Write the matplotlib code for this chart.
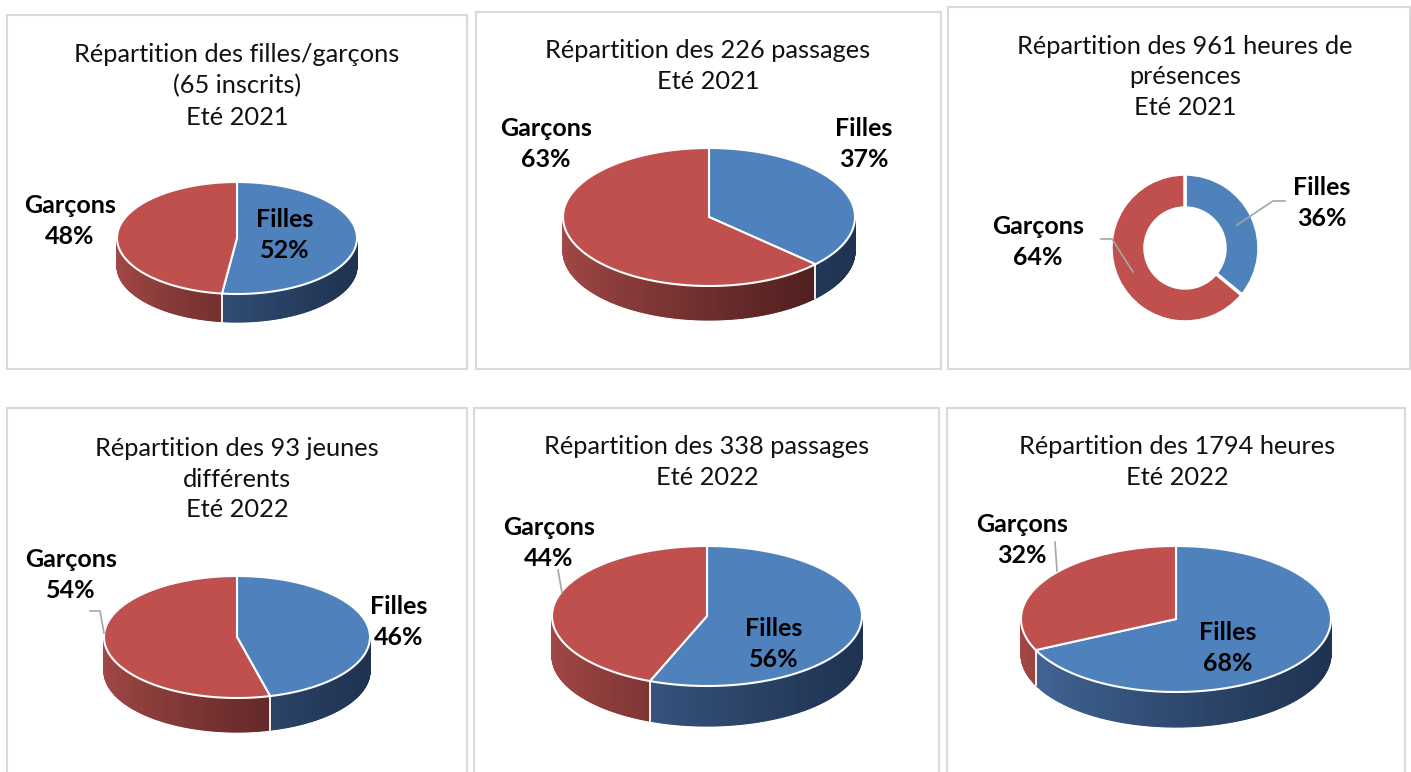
import numpy as np
import matplotlib.pyplot as plt
from matplotlib.patches import Polygon, Wedge
from matplotlib.collections import PolyCollection
from matplotlib.colors import to_rgb

plt.rcParams['font.family'] = ['Lato', 'DejaVu Sans']

# Data
titles = [
    "Répartition des filles/garçons\n(65 inscrits)\nEté 2021",
    "Répartition des 226 passages\nEté 2021",
    "Répartition des 961 heures de\nprésences\nEté 2021",
    "Répartition des 93 jeunes\ndifférents\nEté 2022",
    "Répartition des 338 passages\nEté 2022",
    "Répartition des 1794 heures\nEté 2022",
]
categories = ["Filles", "Garçons"]
filles = [52, 37, 36, 46, 56, 68]
garcons = [48, 63, 64, 54, 44, 32]

# Colours
BLUE, RED = "#4f81bd", "#c0504d"
BLUE_SIDE = ("#44699a", "#1f3250")
RED_SIDE = ("#a24846", "#461a1a")
GREY = "#a6a6a6"

# Layout, in figure pixels (y goes down)
W, H = 1411, 772
boxes = [(7, 15, 467, 369), (476, 12, 941, 369), (948, 7, 1410, 369),
         (7, 408, 467, 790), (474, 408, 939, 790), (947, 408, 1405, 790)]
# cx, cy, rx, ry, depth  (panel 3 is a flat donut: cx, cy, outer r, inner r)
pies = [(237, 238, 120, 56, 28), (709, 217, 146, 69, 34), (1185, 248, 74, 40, None),
        (237, 637, 133, 61, 34), (707, 616, 155, 70, 40), (1176, 619, 155, 73, 35)]
title_pos = [(237, 86), (708, 66), (1185, 77), (237, 479), (707, 462), (1177, 462)]
filles_pos = [(285, 235), (864, 144), (1322, 203), (399, 622), (774, 644), (1228, 648)]
garcons_pos = [(70, 221), (546, 144), (1038, 242), (71, 575), (549, 543), (1022, 540)]
leaders = {
    2: [[(1237, 225), (1273, 201), (1285, 201)], [(1133, 272), (1112, 239), (1101, 239)]],
    3: [[(90, 611), (100, 611), (104, 633)]],
    4: [[(558, 570), (562, 593)]],
    5: [[(1055, 542), (1057, 571)]],
}


def lerp(c1, c2, t):
    a, b = np.array(to_rgb(c1)), np.array(to_rgb(c2))
    return a + (b - a) * t


def pie3d(ax, values, colors, sides, cx, cy, rx, ry, depth):
    start = 90.0
    total = float(sum(values))
    for v, col, (light, dark) in zip(values, colors, sides):
        end = start - 360.0 * v / total
        t = np.radians(np.linspace(start, end, 240))
        xs = cx + rx * np.cos(t)
        ys = cy - ry * np.sin(t)
        quads, cols = [], []
        for i in range(len(t) - 1):
            if np.sin(0.5 * (t[i] + t[i + 1])) < 0:
                quads.append([(xs[i], ys[i]), (xs[i + 1], ys[i + 1]),
                              (xs[i + 1], ys[i + 1] + depth), (xs[i], ys[i] + depth)])
                frac = (0.5 * (xs[i] + xs[i + 1]) - (cx - rx)) / (2 * rx)
                cols.append(lerp(light, dark, np.clip(frac, 0, 1) ** 0.8))
        if quads:
            ax.add_collection(PolyCollection(quads, facecolors=cols, edgecolors=cols,
                                             linewidths=0.8, zorder=1))
        ax.add_patch(Polygon([(cx, cy)] + list(zip(xs, ys)), closed=True, facecolor=col,
                             edgecolor="white", lw=1.5, joinstyle="round", zorder=2))
        # seam between slices on the rim
        a = np.radians(end)
        if np.sin(a) < 0 and v < total:
            x, y = cx + rx * np.cos(a), cy - ry * np.sin(a)
            ax.plot([x, x], [y, y + depth], color="white", lw=1.3, zorder=3)
        start = end


def donut(ax, values, colors, cx, cy, r_out, r_in):
    start = 90.0
    total = float(sum(values))
    for v, col in zip(values, colors):
        end = start - 360.0 * v / total
        # y axis is inverted, so visual angle a is data angle -a
        ax.add_patch(Wedge((cx, cy), r_out, -start, -end, width=r_out - r_in,
                           facecolor=col, edgecolor="white", lw=2.5, zorder=2))
        start = end


fig = plt.figure(figsize=(W / 100, H / 100), dpi=100)
fig.patch.set_facecolor("white")

for k in range(6):
    x0, y0, x1, y1 = boxes[k]
    ax = fig.add_axes([x0 / W, 1 - y1 / H, (x1 - x0) / W, (y1 - y0) / H])
    ax.set_xlim(x0, x1)
    ax.set_ylim(y1, y0)
    ax.set_xticks([])
    ax.set_yticks([])
    for s in ax.spines.values():
        s.set_color("#d9d9d9")
        s.set_linewidth(1.5)

    vals = [filles[k], garcons[k]]
    if pies[k][4] is None:
        donut(ax, vals, [BLUE, RED], *pies[k][:4])
    else:
        pie3d(ax, vals, [BLUE, RED], [BLUE_SIDE, RED_SIDE], *pies[k])

    tx, ty = title_pos[k]
    ax.text(tx, ty, titles[k], ha="center", va="center", fontsize=18.3,
            linespacing=1.42, color="#111111")
    fx, fy = filles_pos[k]
    ax.text(fx, fy, f"{categories[0]}\n{filles[k]}%", ha="center", va="center",
            fontsize=18, fontweight="bold", linespacing=1.45, zorder=5)
    gx, gy = garcons_pos[k]
    ax.text(gx, gy, f"{categories[1]}\n{garcons[k]}%", ha="center", va="center",
            fontsize=18, fontweight="bold", linespacing=1.45, zorder=5)
    for line in leaders.get(k, []):
        lx, ly = zip(*line)
        ax.plot(lx, ly, color=GREY, lw=1.2, zorder=4)

fig.savefig("out.png", dpi=100, facecolor="white")
